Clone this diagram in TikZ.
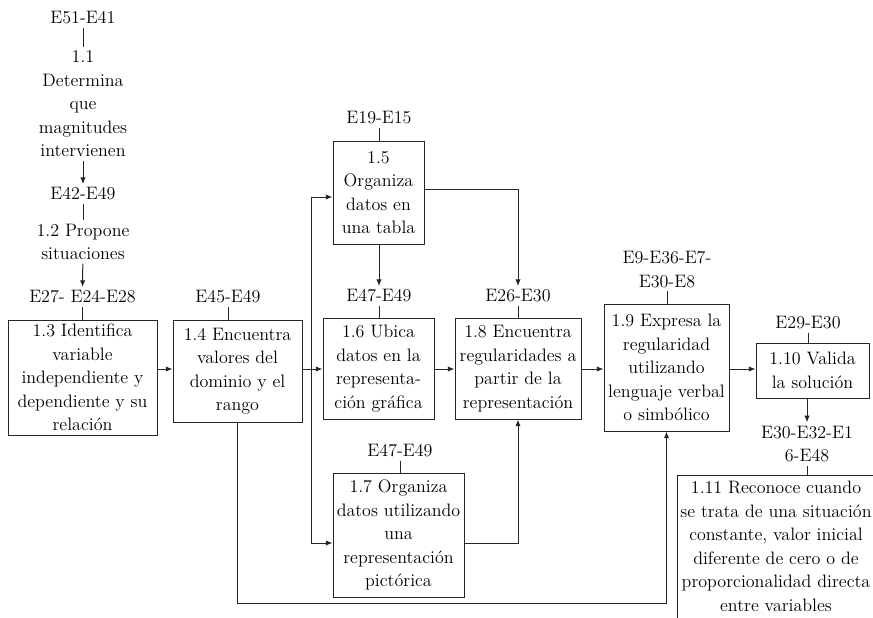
\documentclass[tikz,border=0pt]{standalone}
\usepackage{fontspec}
\usetikzlibrary{arrows.meta}
\begin{document}
\begin{tikzpicture}[x=0.75pt,y=-0.75pt,
  every node/.style={font=\fontsize{13.5}{17.6}\selectfont, align=center, text=black},
  lbl/.style={inner sep=2.5pt},
  stage/.style 2 args={draw=black!85, line width=0.75pt, inner sep=0pt,
    minimum width=#1*0.75pt, minimum height=#2*0.75pt},
  ln/.style={line width=0.75pt, draw=black!85},
  arr/.style={ln, -{Latex[length=5pt,width=4pt]}},
]
\clip (0,0) rectangle (873,617);

% first column: unframed steps
\node[lbl] (l11) at (83,18) {E51-E41};
\node[lbl] (t11) at (83,104) {1.1\\Determina\\que\\magnitudes\\intervienen};
\node[lbl] (l12) at (83,194) {E42-E49};
\node[lbl] (t12) at (83,242) {1.2 Propone\\situaciones};
\node[lbl] (l13) at (82.5,297) {E27- E24-E28};

% framed steps
\node[stage={149}{115}] (b13) at (82.5,377.5) {1.3 Identifica\\variable\\independiente y\\dependiente y su\\relación};
\node[lbl] (l14) at (228,297) {E45-E49};
\node[stage={129}{102}] (b14) at (237.5,371) {1.4 Encuentra\\valores del\\dominio y el\\rango};
\node[lbl] (l15) at (379,118) {E19-E15};
\node[stage={91}{103}] (b15) at (378.5,192.5) {1.5\\Organiza\\datos en\\una tabla};
\node[lbl] (l16) at (379,296) {E47-E49};
\node[stage={111}{101}] (b16) at (378.5,368.5) {1.6 Ubica\\datos en la\\representa-\\ción gráfica};
\node[lbl] (l17) at (400,451) {E47-E49};
\node[stage={131}{124}] (b17) at (398.5,535) {1.7 Organiza\\datos utilizando\\una\\representación\\pictórica};
\node[lbl] (l18) at (518,296) {E26-E30};
\node[stage={126}{101}] (b18) at (518,368.5) {1.8 Encuentra\\regularidades a\\partir de la\\representación};
\node[lbl] (l19) at (667,269.5) {E9-E36-E7-\\E30-E8};
\node[stage={125}{127}] (b19) at (666.5,367.5) {1.9 Expresa la\\regularidad\\utilizando\\lenguaje verbal\\o simbólico};
\node[lbl] (l110) at (808,323) {E29-E30};
\node[stage={113}{55}] (b110) at (812.5,370.5) {1.10 Valida\\la solución};
\node[lbl] (l111) at (807,444) {E30-E32-E1\\6-E48};
\node[lbl] (b111) at (776,546.5) {1.11 Reconoce cuando\\se trata de una situación\\constante, valor inicial\\diferente de cero o de\\proporcionalidad directa\\entre variables};
% frame of step 1.11, running off the page
\coordinate (f11) at (677,475);
\draw[ln] (677,640) -- (f11) -- (900,475);

% column links
\draw[ln] (l11) -- (t11);
\draw[arr] (t11) -- (l12);
\draw[ln] (l12) -- (t12);
\draw[arr] (t12) -- (l13);

% label ticks
\draw[ln] (l13.south) -- (l13.south |- b13.north);
\draw[ln] (l14.south) -- (l14.south |- b14.north);
\draw[ln] (l15.south) -- (l15.south |- b15.north);
\draw[ln] (l16.south) -- (l16.south |- b16.north);
\draw[ln] (l17.south) -- (l17.south |- b17.north);
\draw[ln] (l18.south) -- (l18.south |- b18.north);
\draw[ln] (l19.south) -- (l19.south |- b19.north);
\draw[ln] (l110.south) -- (l110.south |- b110.north);
\draw[ln] (l111.south) -- (l111.south |- f11);

% main flow
\coordinate (j) at (311,369);
\coordinate (jt) at (311,197);
\coordinate (jb) at (311,543);
\coordinate (r5) at (518,189);
\coordinate (bt) at (237,603);
\draw[arr] (b13.east |- j) -- (b14.west |- j);
\draw[arr] (b14.east |- j) -- (b16.west |- j);
\draw[ln] (jt) -- (jb);
\draw[arr] (jt) -- (b15.west |- jt);
\draw[arr] (jb) -- (b17.west |- jb);
\draw[arr] (l16.north |- b15.south) -- (l16.north);
\draw[arr] (b15.east |- r5) -- (r5) -- (l18.north);
\draw[arr] (b16.east |- j) -- (b18.west |- j);
\draw[arr] (b17.east |- jb) -| (b18.south);
\draw[arr] (b18.east |- j) -- (b19.west |- j);
\draw[arr] (b19.east |- j) -- (b110.west |- j);
\draw[arr] (l111.north |- b110.south) -- (l111.north);
\draw[arr] (b14.south) -- (b14.south |- bt) -| (b19.south);
\end{tikzpicture}
\end{document}
